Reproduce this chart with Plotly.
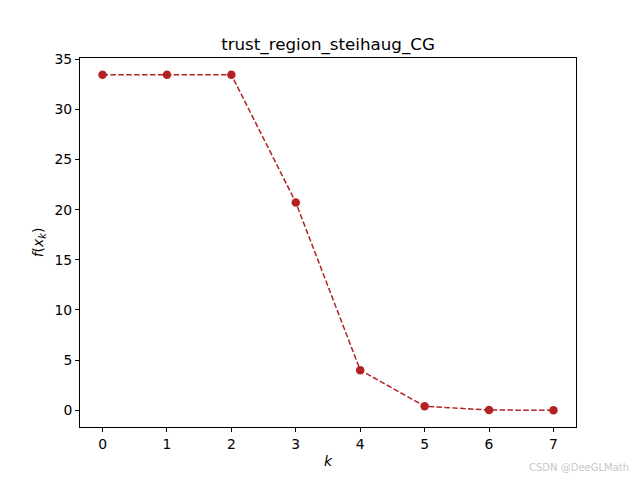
import plotly.graph_objects as go

k_values = [0, 1, 2, 3, 4, 5, 6, 7]
f_values = [33.45, 33.45, 33.45, 20.72, 4.0, 0.4, 0.02, 0.0]
x_ticks = [0, 1, 2, 3, 4, 5, 6, 7]
y_ticks = [0, 5, 10, 15, 20, 25, 30, 35]

fig = go.Figure()
fig.add_trace(go.Scatter(
    x=k_values, y=f_values, mode="lines+markers",
    line=dict(color="#B22222", width=1.5, dash="5.5px,2.4px"),
    marker=dict(color="#B22222", size=8.5),
))

axis_common = dict(
    showline=True, linecolor="black", linewidth=1, mirror=True,
    ticks="outside", ticklen=4, tickcolor="black", showgrid=False, zeroline=False,
    tickfont=dict(family="DejaVu Sans", size=13.9, color="black"),
)
fig.update_layout(
    width=632, height=472,
    margin=dict(l=72, r=64, t=50, b=53, autoexpand=False),
    paper_bgcolor="white", plot_bgcolor="white",
    showlegend=False,
    title=dict(text="trust_region_steihaug_CG", x=(248 + 72) / 632, xanchor="center",
               y=(472 - 36) / 472, yanchor="middle",
               font=dict(family="DejaVu Sans", size=16.7, color="black")),
    font=dict(family="DejaVu Sans", color="black"),
    xaxis=dict(range=[-0.35, 7.35], tickvals=x_ticks,
               title=dict(text="<i>k</i>", font=dict(size=13.9), standoff=5), **axis_common),
    yaxis=dict(range=[-1.67, 35.12], tickvals=y_ticks,
               title=dict(text="<i>f</i>(<i>x<sub>k</sub></i>)", font=dict(size=13.9), standoff=7), **axis_common),
)
fig.add_annotation(text="CSDN @DeeGLMath", xref="paper", yref="paper", x=1.111, y=-0.111,
                   xanchor="right", yanchor="middle", showarrow=False,
                   font=dict(family="DejaVu Sans", size=10, color="#c8c8c8"))
fig.write_html("out.html")
